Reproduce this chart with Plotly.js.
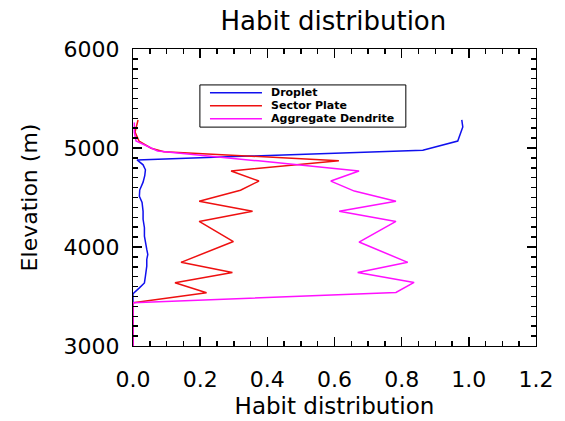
<!DOCTYPE html>
<html>
<head>
<meta charset="utf-8">
<script src="https://cdn.plot.ly/plotly-3.0.1.min.js"></script>
<style>html,body{margin:0;padding:0;background:#fff;}#chart{width:565px;height:421px;}</style>
</head>
<body>
<div id="chart"></div>
<script>
// Series names (legend)
const seriesNames = ["Droplet", "Sector Plate", "Aggregate Dendrite"];
const seriesColors = ["#1010ee", "#ee1010", "#ff10ff"];

// Droplet (elevation m, fraction)
const elevDroplet = [5283, 5212, 5070, 4978, 4880, 4830, 4780, 4720, 4655, 4575, 4512, 4450, 4360, 4280, 4195, 4110, 3975, 3925, 3874, 3806, 3705, 3637, 3587, 3528, 3000];
const droplet     = [0.979, 0.982, 0.967, 0.863, 0.012, 0.030, 0.037, 0.035, 0.030, 0.020, 0.019, 0.027, 0.030, 0.030, 0.034, 0.034, 0.041, 0.044, 0.041, 0.041, 0.037, 0.034, 0.019, 0.000, 0.000];

// Sector Plate
const elevSector = [5283, 5160, 5070, 4998, 4962, 4872, 4768, 4666, 4573, 4463, 4362, 4258, 4055, 3845, 3743, 3639, 3538, 3436, 3000];
const sectorPlate = [0.015, 0.006, 0.018, 0.054, 0.092, 0.613, 0.292, 0.375, 0.320, 0.197, 0.356, 0.197, 0.299, 0.143, 0.296, 0.125, 0.219, 0.000, 0.000];

// Aggregate Dendrite
const elevAggregate = [5258, 5160, 5072, 4970, 4870, 4768, 4666, 4565, 4463, 4362, 4258, 4050, 3845, 3743, 3642, 3541, 3436, 3000];
const aggregateDendrite = [0.004, 0.004, 0.009, 0.073, 0.373, 0.673, 0.589, 0.659, 0.783, 0.614, 0.783, 0.673, 0.818, 0.669, 0.837, 0.783, 0.000, 0.000];

const titleText = "Habit distribution";
const xTitle = "Habit distribution";
const yTitle = "Elevation (m)";

const xs = [droplet, sectorPlate, aggregateDendrite];
const ys = [elevDroplet, elevSector, elevAggregate];

const traces = xs.map((x, i) => ({
  x: x, y: ys[i], type: "scatter", mode: "lines", name: seriesNames[i],
  line: {color: seriesColors[i], width: 1.5}, showlegend: false, hoverinfo: "skip"
}));

const font = "DejaVu Sans, Liberation Sans, sans-serif";

// Manual legend (box, line samples, labels) in paper coordinates
const legX0 = 0.166, legX1 = 0.677, legY0 = 0.737, legY1 = 0.879;
const legRowY = [0.853, 0.809, 0.765];
const shapes = [{type: "rect", xref: "paper", yref: "paper", x0: legX0, x1: legX1, y0: legY0, y1: legY1,
  line: {color: "#000", width: 1}, fillcolor: "rgba(0,0,0,0)"}];
const annotations = [];
seriesNames.forEach((n, i) => {
  shapes.push({type: "line", xref: "paper", yref: "paper", x0: 0.191, x1: 0.320, y0: legRowY[i], y1: legRowY[i],
    line: {color: seriesColors[i], width: 1.5}});
  annotations.push({xref: "paper", yref: "paper", x: 0.338, y: legRowY[i], xanchor: "left", yanchor: "middle",
    text: "<b>" + n + "</b>", showarrow: false, font: {family: font, size: 11, color: "#000"}});
});

const axisCommon = {
  showline: true, linecolor: "#000", linewidth: 1, mirror: "ticks",
  ticks: "inside", ticklen: 9, tickcolor: "#000", tickwidth: 1.5,
  showgrid: false, zeroline: false,
  tickfont: {family: font, size: 22, color: "#000"}
};

const layout = {
  width: 565, height: 421,
  margin: {l: 133, r: 29, t: 49, b: 75},
  paper_bgcolor: "#fff", plot_bgcolor: "#fff",
  title: {text: titleText, font: {family: font, size: 26, color: "#000"}, x: 0.59, xanchor: "center", y: 0.95, yanchor: "middle", yref: "container"},
  xaxis: Object.assign({}, axisCommon, {
    range: [0, 1.2], dtick: 0.2, tick0: 0, tickformat: ".1f", ticklabelstandoff: 14,
    minor: {dtick: 0.05, tick0: 0, ticks: "inside", ticklen: 5, tickcolor: "#000", tickwidth: 1.5, showgrid: false},
    title: {text: xTitle, font: {family: font, size: 23, color: "#000"}, standoff: 6}
  }),
  yaxis: Object.assign({}, axisCommon, {
    range: [3000, 6000], dtick: 1000, tick0: 3000, ticklabelstandoff: 8,
    minor: {dtick: 100, tick0: 3000, ticks: "inside", ticklen: 5, tickcolor: "#000", tickwidth: 1.5, showgrid: false},
    title: {text: yTitle, font: {family: font, size: 22, color: "#000"}, standoff: 19}
  }),
  shapes: shapes,
  annotations: annotations
};

Plotly.newPlot("chart", traces, layout, {staticPlot: true, displayModeBar: false});
</script>
</body>
</html>
